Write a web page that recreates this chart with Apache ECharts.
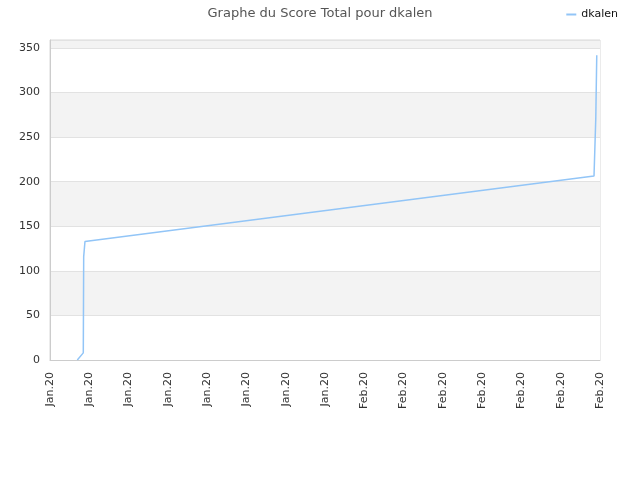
<!DOCTYPE html>
<html>
<head>
<meta charset="utf-8">
<script src="https://cdn.jsdelivr.net/npm/echarts@6/dist/echarts.min.js"></script>
<style>
  html, body { margin: 0; padding: 0; background: #fff; }
  #chart { width: 640px; height: 480px; }
</style>
</head>
<body>
<div id="chart"></div>
<script>
// jours depuis le 1er janvier 2020 (fractionnaires)
const days = [2.78, 3.39, 3.43, 3.56, 55.39, 55.56, 55.57, 55.66, 55.67];
const scores = [0, 8, 116, 133, 206.5, 207, 271, 272, 342];
const monthNames = ['Jan', 'Feb', 'Mar', 'Apr', 'May', 'Jun', 'Jul', 'Aug', 'Sep', 'Oct', 'Nov', 'Dec'];
const startDate = Date.UTC(2020, 0, 1);

const seriesData = days.map((d, i) => [d, scores[i]]);

const formatDay = (d) => {
    const dt = new Date(startDate + d * 86400000);
    return monthNames[dt.getUTCMonth()] + '.' + String(dt.getUTCFullYear()).slice(2);
};

const chart = echarts.init(document.getElementById('chart'));
chart.setOption({
    animation: false,
    backgroundColor: '#fff',
    textStyle: { fontFamily: 'DejaVu Sans' },
    title: {
        text: 'Graphe du Score Total pour dkalen',
        left: 'center',
        top: 2,
        textStyle: { fontSize: 13, fontWeight: 'normal', color: '#555', fontFamily: 'DejaVu Sans' }
    },
    legend: {
        right: 17,
        top: 4,
        icon: 'rect',
        itemWidth: 10,
        itemHeight: 2,
        itemGap: 6,
        textStyle: { fontSize: 11, color: '#111' },
        data: ['dkalen']
    },
    grid: {
        left: 50, right: 40, top: 40, bottom: 120,
        show: true, borderColor: '#d8d8d8', borderWidth: 1
    },
    xAxis: {
        type: 'value',
        min: 0,
        max: 56,
        interval: 4,
        splitLine: { show: false },
        axisTick: { show: false },
        axisLine: { lineStyle: { color: '#ccc' } },
        axisLabel: {
            rotate: 90,
            fontSize: 11,
            color: '#333',
            margin: 12,
            showMinLabel: true,
            showMaxLabel: true,
            formatter: formatDay
        }
    },
    yAxis: {
        type: 'value',
        min: 0,
        max: 359,
        interval: 50,
        axisLine: { show: true, lineStyle: { color: '#ccc' } },
        axisTick: { show: false },
        axisLabel: { fontSize: 11, color: '#333', margin: 10, showMaxLabel: false },
        splitLine: { lineStyle: { color: '#e2e2e2' } },
        splitArea: { show: true, areaStyle: { color: ['#ffffff', '#f3f3f3'] } }
    },
    series: [{
        name: 'dkalen',
        type: 'line',
        data: seriesData,
        showSymbol: false,
        lineStyle: { color: '#92c5f7', width: 1.5 },
        itemStyle: { color: '#92c5f7' }
    }]
});
</script>
</body>
</html>
